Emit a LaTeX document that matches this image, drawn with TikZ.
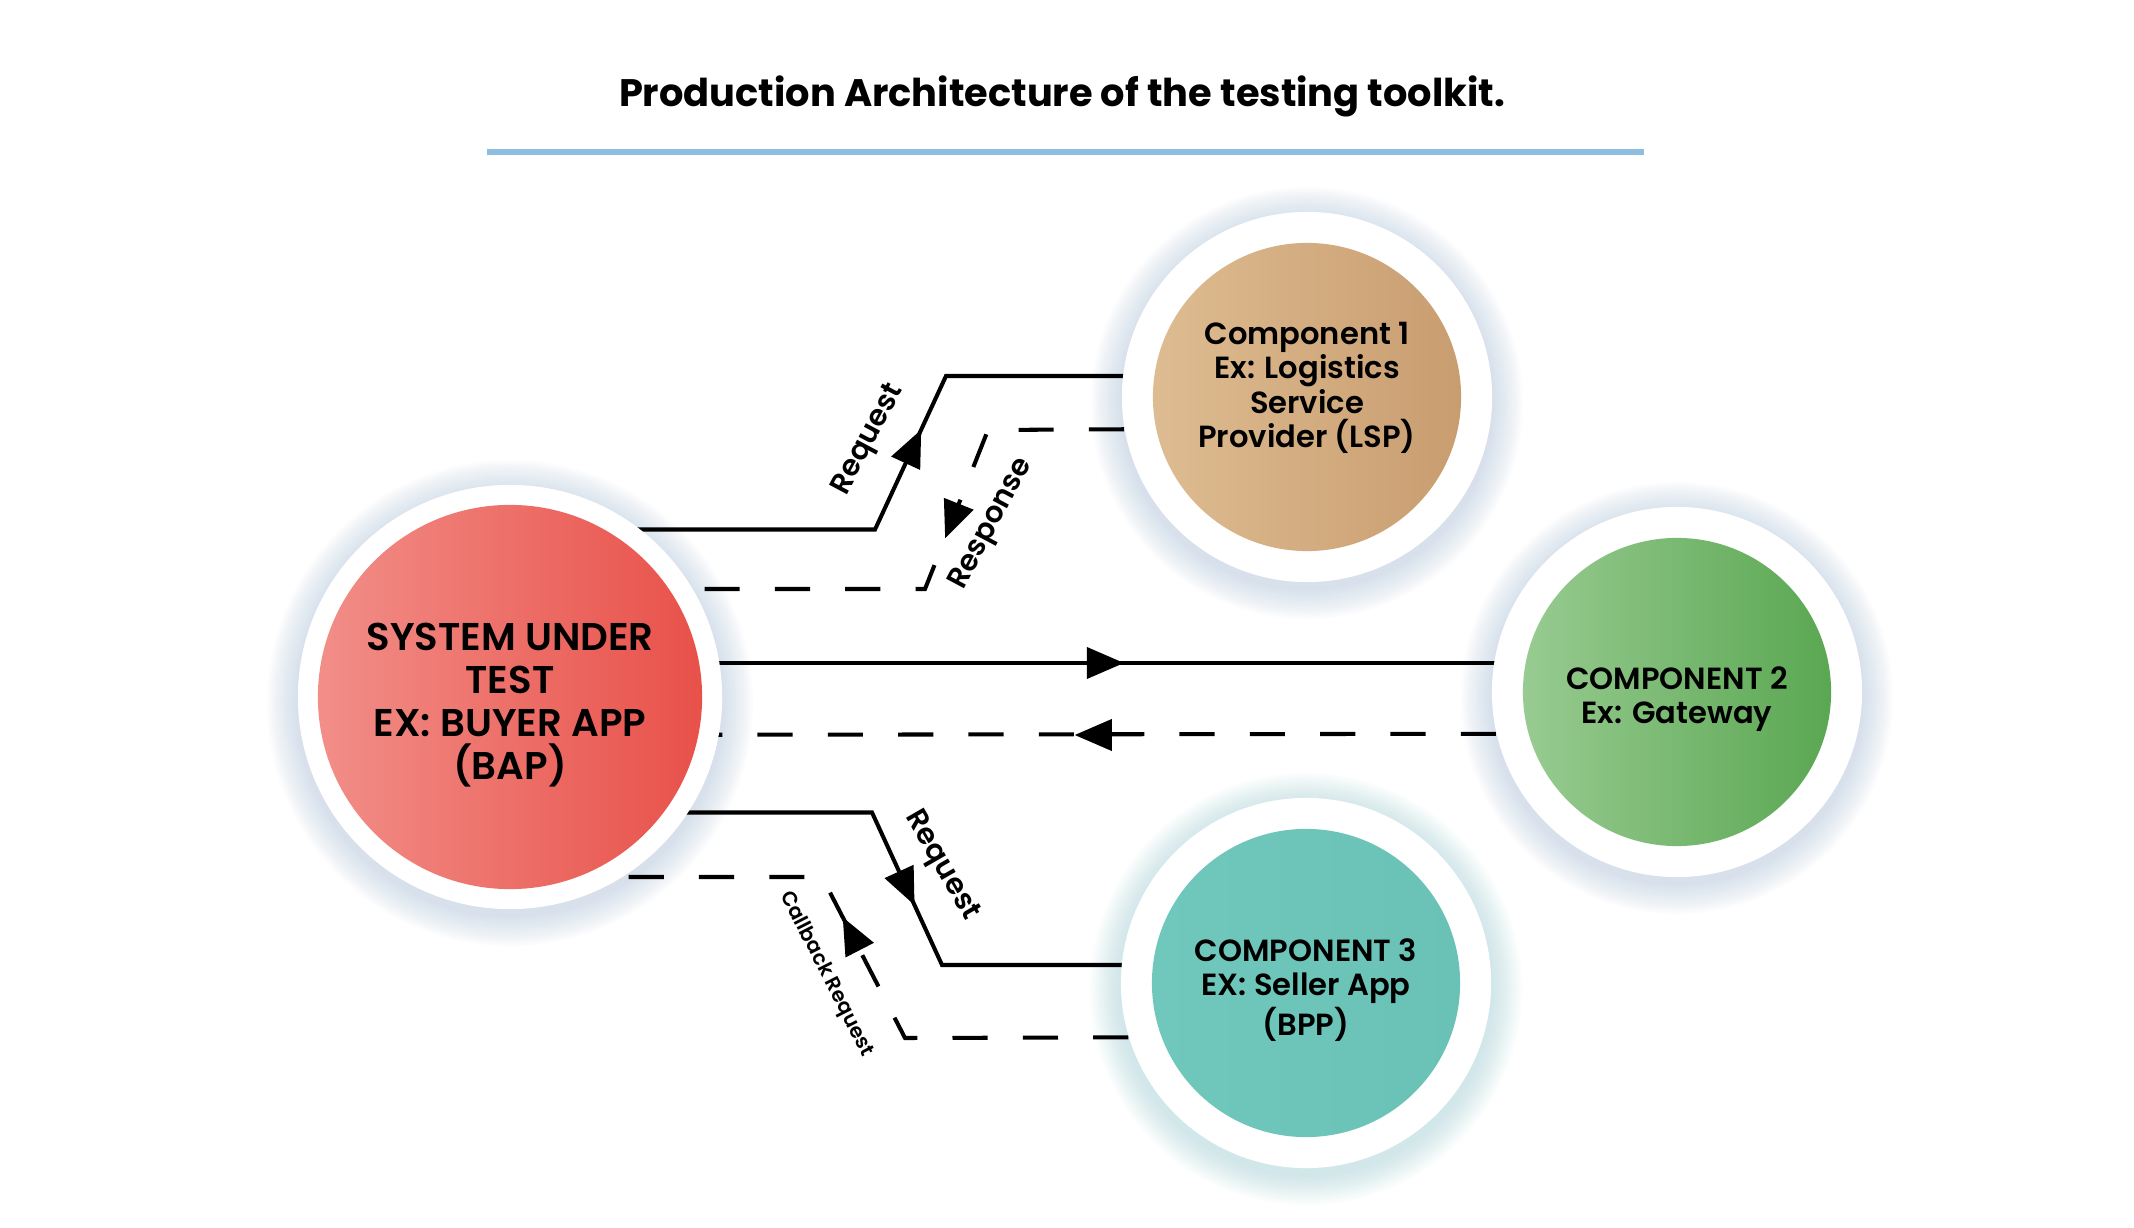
\documentclass[tikz,border=0pt]{standalone}
\usepackage{fontspec}
\setmainfont{Poppins}[BoldFont={Poppins SemiBold}]
\newfontfamily\titlefont{Poppins}
\usetikzlibrary{arrows.meta,decorations.markings,calc}
\definecolor{bapL}{HTML}{F28E88}
\definecolor{bapR}{HTML}{E8514A}
\definecolor{lspL}{HTML}{DEBC91}
\definecolor{lspR}{HTML}{C89D70}
\definecolor{gwL}{HTML}{98CB91}
\definecolor{gwR}{HTML}{5AA752}
\definecolor{bppL}{HTML}{70C7BB}
\definecolor{bppR}{HTML}{6AC2B6}
\definecolor{rulec}{HTML}{8DBDE0}
\definecolor{glowblue}{HTML}{B4C8DF}
\definecolor{glowteal}{HTML}{A9D4DB}
\pgfdeclarelayer{bg}\pgfdeclarelayer{fg}\pgfsetlayers{bg,main,fg}
\begin{document}
\begin{tikzpicture}[x=0.01cm,y=-0.01cm,
  ln/.style={line width=1.15pt, black},
  dln/.style={ln, dash pattern=on 10pt off 10pt},
  tipat/.style={postaction={decorate}, decoration={markings, mark=at position #1 with {\arrow{Triangle[length=10.5pt,width=9pt]}}}},
  whitering/.style={circle, fill=white, inner sep=0pt, minimum size=#1},
  ball/.style={circle, inner sep=0pt, minimum size=#1, align=center},
  bigtxt/.style={align=center, font=\bfseries\fontsize{11}{12.3}\selectfont},
  comptxt/.style={align=center, font=\bfseries\fontsize{8.7}{9.8}\selectfont},
  lbl/.style={inner sep=1pt, font=\bfseries\fontsize{8.3}{9.6}\selectfont},
  smalllbl/.style={inner sep=1pt, font=\bfseries\fontsize{5.8}{6.7}\selectfont}
]
\useasboundingbox (0,0) rectangle (2134,1228);

% title
\node (title) at (1062,96) {\titlefont\bfseries\fontsize{10.9}{13}\selectfont Production Architecture of the testing toolkit.};
\coordinate (r1) at (487,152);
\coordinate (r2) at (1644,152);
\draw[rulec, line width=1.7pt] (r1) -- (r2);

% circles
\begin{pgfonlayer}{fg}
\node[whitering=4.24cm] (bapring) at (510,697) {};
\node[ball=3.84cm, left color=bapL, right color=bapR] (bap) at (510,697) {};
\node[bigtxt] (baptxt) at ($(bap.center)+(0,8)$) {SYSTEM UNDER\\TEST\\EX: BUYER APP\\(BAP)};

\node[whitering=3.70cm] (lspring) at (1307,397) {};
\node[ball=3.08cm, left color=lspL, right color=lspR] (lsp) at (1307,397) {};
\node[comptxt] (lsptxt) at ($(lsp.center)+(0,-9)$) {Component 1\\Ex: Logistics\\Service\\Provider (LSP)};

\node[whitering=3.70cm] (gwring) at (1677,692) {};
\node[ball=3.08cm, left color=gwL, right color=gwR] (gw) at (1677,692) {};
\node[comptxt] (gwtxt) at ($(gw.center)+(0,7)$) {COMPONENT 2\\Ex: Gateway};

\node[whitering=3.70cm] (bppring) at (1306,983) {};
\node[ball=3.08cm, left color=bppL, right color=bppR] (bpp) at (1306,983) {};
\node[comptxt] (bpptxt) at ($(bpp.center)+(0,7)$) {COMPONENT 3\\EX: Seller App\\(BPP)};
\end{pgfonlayer}

% background and glows
\begin{pgfonlayer}{bg}
\fill[white] (0,0) rectangle (2134,1228);
\foreach \k in {1,...,14} {
  \fill[glowblue, opacity=0.042] ($(bapring.center)+(0,6)$) circle[radius={(212+2.2*\k)*0.2845pt}];
  \fill[glowblue, opacity=0.042] ($(lspring.center)+(0,6)$) circle[radius={(185+2.2*\k)*0.2845pt}];
  \fill[glowblue, opacity=0.042] ($(gwring.center)+(0,6)$) circle[radius={(185+2.2*\k)*0.2845pt}];
  \fill[glowteal, opacity=0.042] ($(bppring.center)+(0,6)$) circle[radius={(185+2.2*\k)*0.2845pt}];
}
\end{pgfonlayer}

% top pair
\coordinate (a1) at (875,529.5);
\coordinate (a2) at (946,376);
\draw[ln] (bap.center |- a1) -- (a1) -- (a2) -- (lsp.center |- a2);
\path[tipat=0.65] (a1) -- (a2);
\coordinate (b1) at (925,589);
\coordinate (b2) at (988,430);
\draw[dln] (lspring.190.3) -- (b2) -- (b1) -- (bap.center |- b1);
\path[tipat=0.68] (b2) -- (b1);
\node[lbl, rotate=62] (req1) at (869,440) {Request};
\node[lbl, rotate=62] (resp) at (992,524) {Response};

% middle pair
\coordinate (m1) at (1000,663);
\coordinate (m2) at (1000,735);
\draw[ln] (bap.center |- m1) -- (gw.center |- m1);
\path[tipat=0.526] (bap.center |- m1) -- (gw.center |- m1);
\draw[dln] (gwring.193.4) -- (bap.center |- m2);
\path[tipat=0.516] (gw.center |- m2) -- (bap.center |- m2);

% bottom pair
\coordinate (d1) at (872,812.5);
\coordinate (d2) at (942,965);
\draw[ln] (bap.center |- d1) -- (d1) -- (d2) -- (bpp.center |- d2);
\path[tipat=0.607] (d1) -- (d2);
\coordinate (e1) at (822,877);
\coordinate (e2) at (905,1038);
\draw[dln] (bppring.197.3) -- (e2) -- (e1) -- (bap.center |- e1);
\path[tipat=0.75] (e2) -- (e1);
\node[lbl, rotate=-60] (req2) at (941,866) {Request};
\node[smalllbl, rotate=-63] (cb) at (826,974) {Callback Request};
\end{tikzpicture}
\end{document}
